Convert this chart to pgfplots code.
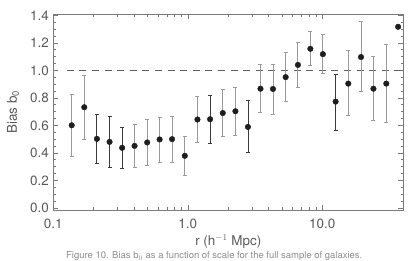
\documentclass[border=0pt]{standalone}
\usepackage{pgfplots}
\pgfplotsset{compat=1.18}
\usepackage{pgfplotstable}
\usepackage{fontspec}
\setmainfont{TeX Gyre Heros}
\definecolor{axgray}{HTML}{7A7A7A}
\definecolor{txtgray}{HTML}{5A5A5A}
\definecolor{errlight}{HTML}{9A9A9A}
\definecolor{errdark}{HTML}{3A3A3A}
\definecolor{dotc}{HTML}{1E1E1E}

\pgfplotstableread{
x y lo hi
0.137 0.601 0.372 0.828
0.170 0.732 0.498 0.964
0.402 0.451 0.297 0.606
0.499 0.476 0.307 0.645
0.617 0.498 0.333 0.657
0.764 0.500 0.333 0.662
0.950 0.379 0.239 0.517
1.18 0.643 0.476 0.809
1.82 0.690 0.519 0.860
2.26 0.703 0.529 0.875
3.47 0.867 0.691 1.046
4.30 0.865 0.679 1.046
5.34 0.951 0.775 1.128
6.59 1.040 0.875 1.200
8.15 1.157 1.036 1.280
10.1 1.118 0.978 1.259
15.6 0.904 0.672 1.143
19.4 1.097 0.846 1.355
24.0 0.867 0.633 1.101
29.9 0.904 0.618 1.190
}\lighttab

\pgfplotstableread{
x y lo hi
0.211 0.502 0.324 0.681
0.262 0.480 0.295 0.667
0.325 0.437 0.288 0.587
1.465 0.645 0.471 0.817
2.80 0.589 0.404 0.780
12.56 0.773 0.565 0.973
}\darktab

\pgfplotstableread{
x y
36.6 1.317
}\lasttab

\begin{document}
\begin{tikzpicture}
\begin{axis}[
  at={(53.3bp,51bp)}, anchor=south west,
  scale only axis, width=350bp, height=196bp,
  xmode=log, xmin=0.1, xmax=40,
  ymin=-0.015, ymax=1.41,
  xtick={0.1,1,10}, xticklabels={0.1,1.0,10.0},
  ytick={0,0.2,0.4,0.6,0.8,1.0,1.2,1.4},
  yticklabels={0.0,0.2,0.4,0.6,0.8,1.0,1.2,1.4},
  minor y tick num=3,
  tick align=inside, tick pos=both,
  major tick length=5bp, minor tick length=2.7bp,
  axis line style={axgray, line width=0.8bp},
  every tick/.style={axgray, line width=0.6bp},
  tick label style={txtgray, font=\fontsize{13.5}{16}\selectfont},
  xticklabel style={yshift=-5bp},
  yticklabel style={xshift=-1bp},
  /pgf/number format/assume math mode=true,
  xlabel={r (h$^{-1}$ Mpc)},
  ylabel={Bias b$_{\mathrm{0}}$},
  label style={txtgray, font=\fontsize{13.5}{16}\selectfont},
  xlabel style={at={(axis description cs:0.5,-0.163)}, anchor=center},
  ylabel style={at={(axis description cs:-0.115,0.5)}, anchor=center, rotate=0},
  clip=false,
]
\addplot[errdark!80, line width=1.3bp, dash pattern=on 7bp off 5.6bp, forget plot]
  coordinates {(0.126,1.0) (40,1.0)};
\addplot[only marks, mark=*, mark size=2.8bp, mark options={dotc, fill=dotc},
  error bars/.cd, y dir=both, y explicit,
  error bar style={errlight, line width=0.9bp},
  error mark options={errlight, line width=0.9bp, rotate=90, mark size=2bp}]
  table[x=x, y=y, y error plus expr=\thisrow{hi}-\thisrow{y}, y error minus expr=\thisrow{y}-\thisrow{lo}] {\lighttab};
\addplot[only marks, mark=*, mark size=2.8bp, mark options={dotc, fill=dotc},
  error bars/.cd, y dir=both, y explicit,
  error bar style={errdark, line width=0.9bp},
  error mark options={errdark, line width=0.9bp, rotate=90, mark size=2bp}]
  table[x=x, y=y, y error plus expr=\thisrow{hi}-\thisrow{y}, y error minus expr=\thisrow{y}-\thisrow{lo}] {\darktab};
\addplot[only marks, mark=*, mark size=2.8bp, mark options={dotc, fill=dotc}]
  table[x=x, y=y] {\lasttab};
\end{axis}
\node[anchor=base west, text=txtgray!70, font=\fontsize{9.5}{11}\selectfont, inner sep=0pt]
  at (66bp,2.3bp) {Figure 10. Bias b$_0$ as a function of scale for the full sample of galaxies.};
\pgfresetboundingbox
\useasboundingbox (0,0) rectangle (415bp,261bp);
\end{tikzpicture}
\end{document}
